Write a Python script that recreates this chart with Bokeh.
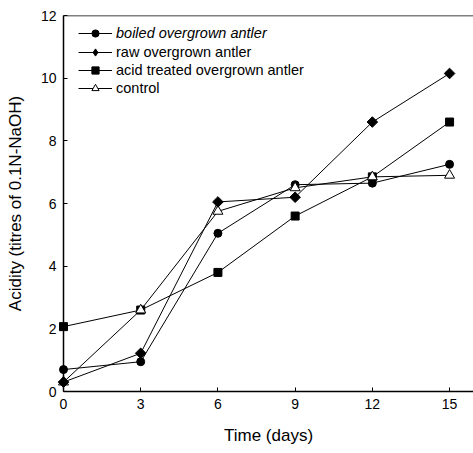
import math
from bokeh.plotting import figure
from bokeh.models import Range1d, Legend, LegendItem, Span, FixedTicker
from bokeh.embed import file_html
from bokeh.resources import INLINE

days = [0, 3, 6, 9, 12, 15]
boiled = [0.7, 0.95, 5.05, 6.6, 6.65, 7.25]
raw = [0.3, 1.22, 6.05, 6.2, 8.6, 10.15]
acid = [2.07, 2.6, 3.8, 5.6, 6.85, 8.6]
control = [0.3, 2.6, 5.75, 6.5, 6.85, 6.9]

x_ticks = [0, 3, 6, 9, 12, 15]
y_ticks = [0, 2, 4, 6, 8, 10, 12]

FONT = "Liberation Sans"

p = figure(width=473, height=453, x_range=Range1d(0, 15.93), y_range=Range1d(0, 12),
           output_backend="svg", toolbar_location=None,
           min_border_left=63, min_border_right=0, min_border_top=15, min_border_bottom=62)
p.outline_line_color = None
p.xgrid.visible = False
p.ygrid.visible = False
p.background_fill_color = "white"

for ax in (p.xaxis[0], p.yaxis[0]):
    ax.axis_line_color = "black"
    ax.axis_line_width = 1.5
    ax.major_tick_in = 4
    ax.major_tick_out = 0
    ax.major_tick_line_color = "black"
    ax.minor_tick_line_color = None
    ax.major_label_text_font = FONT
    ax.major_label_text_font_size = "14px"
    ax.major_label_text_color = "black"
    ax.axis_label_text_font = FONT
    ax.axis_label_text_font_size = "17px"
    ax.axis_label_text_font_style = "normal"
    ax.axis_label_text_color = "black"
    ax.major_label_standoff = 7

p.xaxis[0].ticker = FixedTicker(ticks=x_ticks)
p.yaxis[0].ticker = FixedTicker(ticks=y_ticks)
p.xaxis[0].axis_label = "Time (days)"
p.yaxis[0].axis_label = "Acidity (titres of 0.1N-NaOH)"
p.xaxis[0].axis_label_standoff = 14
p.yaxis[0].axis_label_standoff = 13

p.add_layout(Span(location=12, dimension="width", line_color="black", line_width=1.5))

def series(y, marker, size, fill):
    l = p.line(days, y, line_color="black", line_width=1, level="overlay")
    s = p.scatter(days, y, marker=marker, size=size, fill_color=fill,
                  line_color="black", line_width=1, level="overlay")
    return [l, s]

r_boiled = series(boiled, "circle", 8, "black")
r_acid = series(acid, "square", 8, "black")
r_control = series(control, "triangle", 10, "white")

# raw: rotated squares on the chart, a diamond glyph (off-frame, clipped) for the legend key
raw_line = p.line(days, raw, line_color="black", line_width=1, level="overlay")
p.scatter(days, raw, marker="square", size=7.5, angle=math.pi / 4, fill_color="black",
          line_color="black", line_width=1, level="overlay")
raw_key = p.scatter([-20], [-20], marker="diamond", size=13, fill_color="black",
                    line_color="black", line_width=1)
r_raw = [raw_line, raw_key]

def make_legend(items, y, style):
    lg = Legend(items=items, location=(15, y), orientation="vertical",
                glyph_width=34, glyph_height=18, label_height=18, spacing=0,
                padding=0, margin=0, label_standoff=4,
                border_line_color=None, background_fill_alpha=0,
                label_text_font=FONT, label_text_font_size="14.5px",
                label_text_font_style=style, label_text_color="black")
    p.add_layout(lg)

make_legend([LegendItem(label="boiled overgrown antler", renderers=r_boiled)], 349, "italic")
make_legend([LegendItem(label="raw overgrown antler", renderers=r_raw),
             LegendItem(label="acid treated overgrown antler", renderers=r_acid),
             LegendItem(label="control", renderers=r_control)], 294, "normal")

open("out.html", "w").write(file_html(p, INLINE))
